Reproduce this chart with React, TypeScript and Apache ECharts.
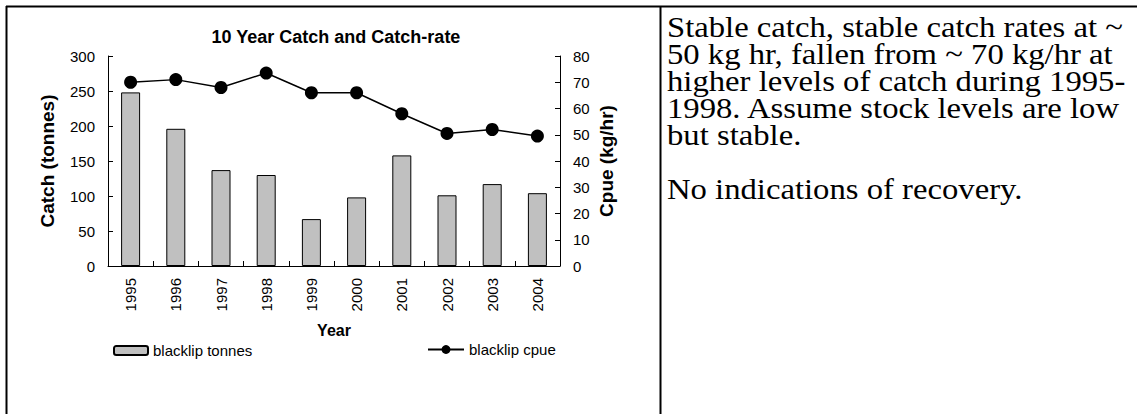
import React, { useEffect, useRef } from "react";
import * as echarts from "echarts";

const years = ["1995", "1996", "1997", "1998", "1999", "2000", "2001", "2002", "2003", "2004"];
const tonnes = [248, 196, 137, 130, 67, 98, 158, 101, 117, 104];
const cpue = [70, 71, 68, 73.5, 66, 66, 58, 50.5, 52, 49.5];
const catchTicks = { min: 0, max: 300, interval: 50 };
const cpueTicks = { min: 0, max: 80, interval: 10 };
const noteLines = [
  "Stable catch, stable catch rates at ~",
  "50 kg hr, fallen from ~ 70 kg/hr at",
  "higher levels of catch during 1995-",
  "1998. Assume stock levels are low",
  "but stable.",
];
const noteLast = "No indications of recovery.";

const SANS = "Liberation Sans";
const SERIF = "Liberation Serif";

export default function App() {
  const ref = useRef<HTMLDivElement>(null);
  useEffect(() => {
    if (!ref.current) return;
    const chart = echarts.init(ref.current, undefined, { renderer: "svg" });
    const axisCommon = {
      axisLine: { show: true, lineStyle: { color: "#000", width: 1 } },
      axisTick: { show: true, inside: true, length: 5, lineStyle: { color: "#000" } },
      splitLine: { show: false },
    };
    const noteStyle = {
      fontFamily: SERIF,
      fontSize: 30,
      lineHeight: 27,
      fill: "#000",
      textAlign: "left",
      textVerticalAlign: "top",
    };
    chart.setOption({
      animation: false,
      backgroundColor: "#fff",
      textStyle: { fontFamily: SANS, color: "#000" },
      title: {
        text: "10 Year Catch and Catch-rate",
        left: 331,
        top: 23,
        textAlign: "center",
        textStyle: { fontFamily: SANS, fontWeight: "bold", fontSize: 18, color: "#000" },
      },
      grid: { left: 108, right: 577, top: 56, bottom: 148, containLabel: false },
      legend: [
        {
          data: ["blacklip tonnes"],
          left: 113,
          top: 343,
          padding: 0,
          itemWidth: 34,
          itemHeight: 9,
          textStyle: { fontFamily: SANS, fontSize: 15, color: "#000" },
        },
        {
          data: ["blacklip cpue"],
          left: 427,
          top: 342,
          padding: 0,
          itemWidth: 36,
          itemHeight: 11,
          textStyle: { fontFamily: SANS, fontSize: 15, color: "#000" },
        },
      ],
      xAxis: {
        type: "category",
        data: years,
        boundaryGap: true,
        ...axisCommon,
        axisLabel: { rotate: 90, fontSize: 15, color: "#000", margin: 12, fontFamily: SANS },
        name: "Year",
        nameLocation: "middle",
        nameGap: 56,
        nameTextStyle: { fontFamily: SANS, fontWeight: "bold", fontSize: 16, color: "#000" },
      },
      yAxis: [
        {
          type: "value",
          position: "left",
          ...catchTicks,
          ...axisCommon,
          axisLabel: { fontSize: 15, color: "#000", margin: 13, fontFamily: SANS },
          name: "Catch (tonnes)",
          nameLocation: "middle",
          nameRotate: 90,
          nameGap: 51,
          nameTextStyle: { fontFamily: SANS, fontWeight: "bold", fontSize: 19, color: "#000" },
        },
        {
          type: "value",
          position: "right",
          ...cpueTicks,
          ...axisCommon,
          axisLabel: { fontSize: 15, color: "#000", margin: 13, fontFamily: SANS },
          name: "Cpue (kg/hr)",
          nameLocation: "middle",
          nameRotate: 90,
          nameGap: 37,
          nameTextStyle: { fontFamily: SANS, fontWeight: "bold", fontSize: 19, color: "#000" },
        },
      ],
      series: [
        {
          name: "blacklip tonnes",
          type: "bar",
          yAxisIndex: 0,
          data: tonnes,
          barWidth: 19,
          itemStyle: { color: "#c0c0c0", borderColor: "#000", borderWidth: 1 },
        },
        {
          name: "blacklip cpue",
          type: "line",
          yAxisIndex: 1,
          data: cpue,
          symbol: "circle",
          symbolSize: 13,
          itemStyle: { color: "#000" },
          lineStyle: { color: "#000", width: 1.5 },
        },
      ],
      graphic: [
        { type: "line", shape: { x1: 6, y1: 6.5, x2: 1137, y2: 6.5 }, style: { stroke: "#000", lineWidth: 2 } },
        { type: "line", shape: { x1: 6.5, y1: 6, x2: 6.5, y2: 414 }, style: { stroke: "#000", lineWidth: 2 } },
        { type: "line", shape: { x1: 660.5, y1: 6, x2: 660.5, y2: 414 }, style: { stroke: "#000", lineWidth: 2 } },
        {
          type: "text",
          x: 667,
          y: 13,
          scaleX: 1.09,
          style: { ...noteStyle, text: noteLines.join("\n") },
        },
        {
          type: "text",
          x: 667,
          y: 175,
          scaleX: 1.09,
          style: { ...noteStyle, text: noteLast },
        },
      ],
    });
    return () => chart.dispose();
  }, []);
  return (
    <div
      ref={ref}
      style={{ position: "fixed", left: 0, top: 0, width: 1137, height: 414, background: "#fff" }}
    />
  );
}
